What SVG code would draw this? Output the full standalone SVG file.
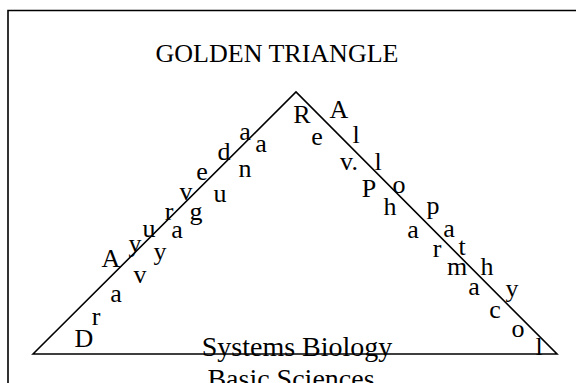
<svg xmlns="http://www.w3.org/2000/svg" width="576" height="383" viewBox="0 0 576 383">
<style>
text{font-family:"Liberation Serif","Times New Roman",serif;fill:#000}
.t{font-size:28px;text-anchor:middle}
.h{font-size:26px;text-anchor:middle}
.l{font-size:26px;text-anchor:middle}
.ln{stroke:#000;stroke-width:1.6;fill:none}
</style>
<rect x="0" y="0" width="576" height="383" fill="#fff"/>
<g id="frame"><path class="ln" d="M8,384 V10.5 H577" stroke-width="1.8"/></g>
<g id="connectors">
<path class="ln" d="M33,354 L296,92 L557,354 Z"/>
</g>
<g id="title"><text class="h" x="277" y="62">GOLDEN TRIANGLE</text></g>
<g id="ayurveda">
<text class="l" x="111" y="267">A</text>
<text class="l" x="135" y="252">y</text>
<text class="l" x="149" y="237">u</text>
<text class="l" x="169" y="220">r</text>
<text class="l" x="186" y="200">v</text>
<text class="l" x="202" y="180">e</text>
<text class="l" x="224" y="160">d</text>
<text class="l" x="245" y="140">a</text>
</g>
<g id="dravyaguna">
<text class="l" x="84" y="347">D</text>
<text class="l" x="96" y="325">r</text>
<text class="l" x="116" y="302">a</text>
<text class="l" x="140" y="283">v</text>
<text class="l" x="160" y="260">y</text>
<text class="l" x="177" y="238">a</text>
<text class="l" x="196" y="220">g</text>
<text class="l" x="220" y="202">u</text>
<text class="l" x="245" y="177">n</text>
<text class="l" x="261" y="152">a</text>
</g>
<g id="rev-pharmacol">
<text class="l" x="302" y="123">R</text>
<text class="l" x="317" y="145">e</text>
<text class="l" x="349" y="170">v.</text>
<text class="l" x="369" y="197">P</text>
<text class="l" x="390" y="215">h</text>
<text class="l" x="413" y="238">a</text>
<text class="l" x="437" y="257">r</text>
<text class="l" x="457" y="275">m</text>
<text class="l" x="474" y="295">a</text>
<text class="l" x="495" y="318">c</text>
<text class="l" x="518" y="337">o</text>
<text class="l" x="539" y="355">l</text>
</g>
<g id="allopathy">
<text class="l" x="339" y="118">A</text>
<text class="l" x="356" y="143">l</text>
<text class="l" x="378" y="170">l</text>
<text class="l" x="399" y="193">o</text>
<text class="l" x="433" y="214">p</text>
<text class="l" x="449" y="237">a</text>
<text class="l" x="462" y="255">t</text>
<text class="l" x="487" y="275">h</text>
<text class="l" x="512" y="297">y</text>
</g>
<g id="systems-biology"><text class="t" x="297" y="356">Systems Biology</text></g>
<g id="basic-sciences"><text class="t" x="291" y="388">Basic Sciences</text></g>
</svg>
